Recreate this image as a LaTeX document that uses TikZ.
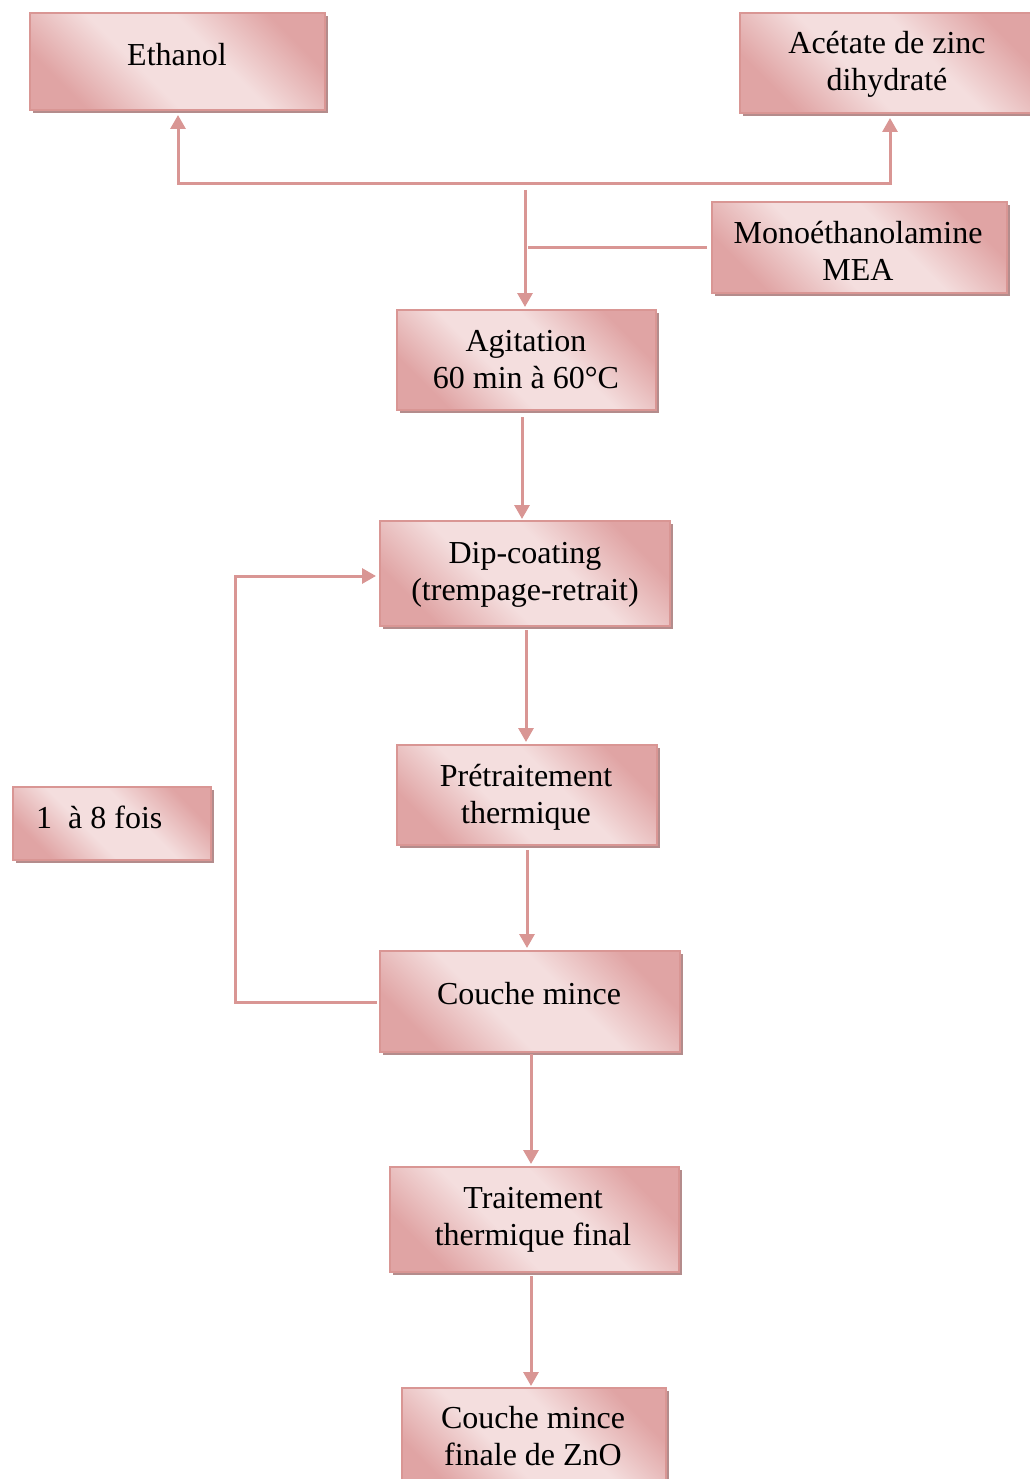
\documentclass[tikz,border=0pt]{standalone}
\usepackage{fontspec}
\setmainfont{Liberation Serif}
\usetikzlibrary{arrows.meta,shadows,calc}
\definecolor{bord}{RGB}{217,150,148}
\definecolor{corn}{RGB}{224,164,164}
\definecolor{cent}{RGB}{244,222,222}
\definecolor{shad}{RGB}{180,140,140}
\pgfdeclarehorizontalshading{pinkdiag}{100bp}{color(0bp)=(corn); color(25bp)=(corn); color(42bp)=(cent); color(58bp)=(cent); color(75bp)=(corn); color(100bp)=(corn)}
\begin{document}
\begin{tikzpicture}[x=1pt,y=-1pt,
  boxst/.style={draw=bord, line width=2pt, rectangle, inner sep=0pt,
    shading=pinkdiag, shading angle=45,
    drop shadow={shadow xshift=3pt,shadow yshift=-3pt,fill=shad,opacity=1}},
  txt/.style={font=\fontsize{32}{37}\selectfont, align=center, inner sep=0pt, anchor=base},
  link/.style={draw=bord, line width=3pt},
  arr/.style={link, -{Triangle[width=15pt,length=14pt]}}]
\useasboundingbox (0,0) rectangle (1029,1479);
% boxes
\node[boxst, minimum width=295pt, minimum height=97pt]  (eth)   at (177.5,61.5) {};
\node[boxst, minimum width=300pt, minimum height=100pt] (ace)   at (890,63) {};
\node[boxst, minimum width=295pt, minimum height=91pt]  (mea)   at (859.5,247.5) {};
\node[boxst, minimum width=259pt, minimum height=100pt] (agit)  at (526.5,360) {};
\node[boxst, minimum width=290pt, minimum height=105pt] (dip)   at (525,573.5) {};
\node[boxst, minimum width=260pt, minimum height=100pt] (pret)  at (527,795) {};
\node[boxst, minimum width=198pt, minimum height=73pt]  (fois)  at (112,823.5) {};
\node[boxst, minimum width=300pt, minimum height=101pt] (cou)   at (530,1001.5) {};
\node[boxst, minimum width=289pt, minimum height=105pt] (trait) at (534.5,1219.5) {};
\node[boxst, minimum width=264pt, minimum height=107pt] (fin)   at (534,1441.5) {};
% texts (base anchor = last line baseline)
\node[txt] (teth)   at (177,66)   {Ethanol};
\node[txt] (tace)   at (887,91)   {Acétate de zinc\\dihydraté};
\node[txt] (tmea)   at (858,280)  {Monoéthanolamine\\MEA};
\node[txt] (tagit)  at (526,388)  {Agitation\\60 min à 60°C};
\node[txt] (tdip)   at (525,600)  {Dip-coating\\(trempage-retrait)};
\node[txt] (tpret)  at (526,823)  {Prétraitement\\thermique};
\node[txt, anchor=base west] (tfois) at (36,828) {1\ \ à 8 fois};
\node[txt] (tcou)   at (529,1004) {Couche mince};
\node[txt] (ttrait) at (533,1245) {Traitement\\thermique final};
\node[txt] (tfin)   at (533,1465) {Couche mince\\finale de ZnO};
% connectors
\draw[link, {Triangle[width=15pt,length=14pt]}-{Triangle[width=15pt,length=14pt]}]
  ($(eth.south)+(0.5,4)$) |- ($(ace.south)+(0,70)$) -- ($(ace.south)+(0,4)$);
\draw[arr] ($(agit.north)+(-1.5,-119)$) -- ($(agit.north)+(-1.5,-2)$);
\draw[link] ($(mea.west)+(-4,0)$) -- ($(mea.west)+(-183,0)$);
\draw[arr] ($(agit.south)+(-4.5,6)$) -- ($(dip.north)+(-3,-1)$);
\draw[arr] ($(dip.south)+(1,3)$) -- ($(pret.north)+(-1,-2)$);
\draw[arr] ($(pret.south)+(0,4)$) -- ($(cou.north)+(-3,-2)$);
\draw[arr] ($(cou.south)+(1,1)$) -- ($(trait.north)+(-3.5,-2)$);
\draw[arr] ($(trait.south)+(-3.5,3)$) -- ($(fin.north)+(-3,-1)$);
\draw[arr] ($(cou.west)+(-2,0.5)$) -- ++(-142,0) |- ($(dip.west)+(-3,2.5)$);
\end{tikzpicture}
\end{document}
